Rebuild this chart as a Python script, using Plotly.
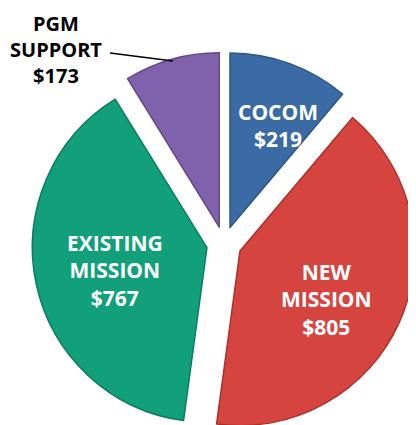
import plotly.graph_objects as go

categories = ["COCOM", "NEW MISSION", "EXISTING MISSION", "PGM SUPPORT"]
label_lines = [["COCOM"], ["NEW", "MISSION"], ["EXISTING", "MISSION"], ["PGM", "SUPPORT"]]
values = [219, 805, 767, 173]
colors = ["#3B6BA4", "#D5443F", "#11A07A", "#8062AC"]
edge_colors = ["#2E5583", "#A8322E", "#0B7C5E", "#614887"]

# page has an 8px body margin; figure drawn in a box starting at (8, 8)
OFF = 8
W, H = 408, 428
cx, half = 216, 192

def px(x):
    return (x - OFF) / W

def py(y):
    return 1 - (y - OFF) / H

texts = ["<br>".join(lines + [f"${v}"]) for lines, v in zip(label_lines, values)]

fig = go.Figure(go.Pie(
    labels=categories,
    values=values,
    textinfo="none",
    sort=False,
    direction="clockwise",
    rotation=0,
    pull=[0.1, 0.1, 0.1, 0.1],
    marker=dict(colors=colors, line=dict(color=edge_colors, width=1.5)),
    hoverinfo="skip",
    domain=dict(x=[(cx - half) / W, (cx + half) / W], y=[0, 2 * half / H]),
))

# label positions (page pixels)
label_pos = [(278, 125), (326, 299), (115, 270), (56, 50)]
label_colors = ["white", "white", "white", "black"]
label_sizes = [21, 21, 21, 20]
for t, (x, y), c, s in zip(texts, label_pos, label_colors, label_sizes):
    fig.add_annotation(
        x=px(x), y=py(y), xref="paper", yref="paper",
        text=t, showarrow=False,
        font=dict(family="Open Sans", size=s, color=c, weight="bold"),
        xanchor="center", yanchor="middle", align="center",
    )

# leader line for PGM SUPPORT
fig.add_shape(
    type="line", xref="paper", yref="paper",
    x0=px(110), y0=py(53), x1=px(173), y1=py(61),
    line=dict(color="black", width=1.5),
)

fig.update_layout(
    width=W, height=H,
    margin=dict(l=0, r=0, t=0, b=0),
    paper_bgcolor="white", plot_bgcolor="white",
    showlegend=False,
)
fig.write_html("out.html")
